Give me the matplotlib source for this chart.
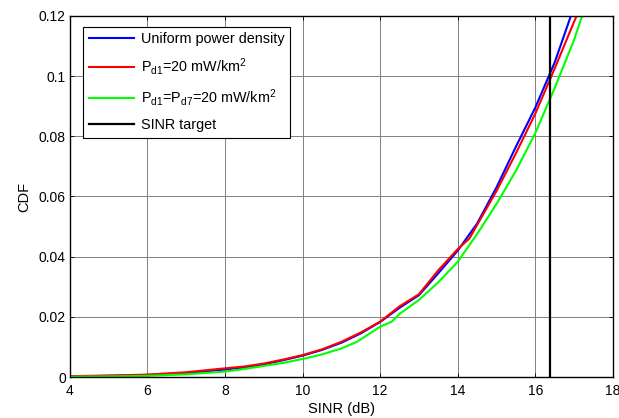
import matplotlib
matplotlib.use("Agg")
import matplotlib.pyplot as plt

plt.rcParams['font.family'] = ['Liberation Sans', 'DejaVu Sans']
plt.rcParams['mathtext.fontset'] = 'custom'
plt.rcParams['mathtext.rm'] = 'Liberation Sans'
plt.rcParams['mathtext.it'] = 'Liberation Sans'

# SINR (dB) samples and CDF values
x_uniform = [4, 5, 6, 7, 8, 8.5, 9, 9.5, 10, 10.5, 11, 11.5, 12, 12.5,
             13, 13.5, 14, 14.5, 15, 15.5, 16, 16.5, 17]
y_uniform = [0.0002, 0.0004, 0.0007, 0.0013, 0.0025, 0.0032, 0.0042, 0.0056,
             0.0071, 0.0090, 0.0114, 0.0145, 0.0183, 0.0230, 0.0272, 0.0345,
             0.0420, 0.0510, 0.0630, 0.0765, 0.0895, 0.1045, 0.1230]

x_pd1 = [4, 5, 6, 7, 8, 8.5, 9, 9.5, 10, 10.5, 11, 11.5, 12, 12.5, 13,
         13.5, 14, 14.3, 15, 15.5, 16, 16.5, 17, 17.2]
y_pd1 = [0.0003, 0.0005, 0.0008, 0.0016, 0.0029, 0.0035, 0.0045, 0.0058,
         0.0073, 0.0092, 0.0117, 0.0148, 0.0184, 0.0235, 0.0275, 0.0355,
         0.0425, 0.0460, 0.0618, 0.0743, 0.0875, 0.1025, 0.1180, 0.1240]

x_pd17 = [4, 5, 6, 7, 8, 8.5, 9, 9.5, 10, 10.5, 11, 11.4, 12, 12.3, 12.5,
          13, 13.5, 14, 14.5, 15, 15.5, 16, 16.5, 17, 17.3]
y_pd17 = [0.0001, 0.0002, 0.0004, 0.0009, 0.0018, 0.0027, 0.0037, 0.0047,
          0.0060, 0.0075, 0.0095, 0.0117, 0.0167, 0.0184, 0.0210, 0.0256,
          0.0315, 0.0383, 0.0475, 0.0575, 0.0685, 0.0810, 0.0960, 0.1120,
          0.1235]

sinr_target = 16.37

fig = plt.figure(figsize=(6.19, 4.18), dpi=100)
ax = fig.add_axes([0.113, 0.098, 0.877, 0.864])

ax.plot(x_uniform, y_uniform, color='#0000ff', lw=1.5,
        label='Uniform power density')
ax.plot(x_pd1, y_pd1, color='#ff0000', lw=1.5,
        label=r'P$_{\rm d1}$=20 mW/km$^2$')
ax.plot(x_pd17, y_pd17, color='#00ff00', lw=1.5,
        label=r'P$_{\rm d1}$=P$_{\rm d7}$=20 mW/km$^2$')
ax.axvline(sinr_target, color='k', lw=1.6, label='SINR target')

ax.set_xlim(4, 18)
ax.set_ylim(0, 0.12)
ax.set_xticks([4, 6, 8, 10, 12, 14, 16, 18])
ax.set_yticks([0, 0.02, 0.04, 0.06, 0.08, 0.1, 0.12])
ax.set_yticklabels(['0', '0.02', '0.04', '0.06', '0.08', '0.1', '0.12'])
ax.tick_params(direction='in', top=True, right=True, labelsize=10,
               length=3, width=0.6)
ax.tick_params(axis='x', pad=5)
ax.tick_params(axis='y', pad=3)
ax.grid(True, color='#808080', ls='-', lw=0.7)
for s in ax.spines.values():
    s.set_linewidth(1.0)

ax.set_xlabel('SINR (dB)', fontsize=10.5, labelpad=3)
ax.set_ylabel('CDF', fontsize=10.5, labelpad=5)

leg = ax.legend(loc='upper left', bbox_to_anchor=(0.024, 0.97), fontsize=10.4,
                fancybox=False, edgecolor='k', framealpha=1,
                handlelength=3.1, borderpad=0.4, labelspacing=0.68,
                handletextpad=0.5, borderaxespad=0)
leg.get_frame().set_linewidth(0.8)

fig.savefig('out.png', dpi=100)
